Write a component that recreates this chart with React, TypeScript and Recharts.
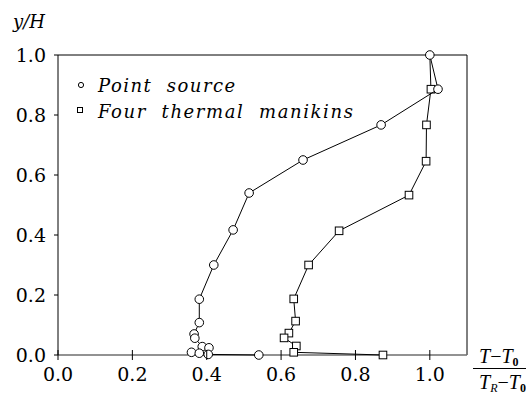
import { ScatterChart, Scatter, XAxis, YAxis, ReferenceLine } from "recharts";

// Point source profile (top to floor)
const pointX = [1.0, 1.022, 0.869, 0.659, 0.514, 0.471, 0.419, 0.38, 0.38, 0.366, 0.368, 0.388, 0.406, 0.359, 0.38, 0.404, 0.54];
const pointY = [1.0, 0.886, 0.767, 0.65, 0.54, 0.417, 0.3, 0.186, 0.108, 0.07, 0.056, 0.028, 0.024, 0.009, 0.006, 0.002, 0.0];

// Four thermal manikins profile (starts at the shared ceiling point)
const manX = [1.0, 1.003, 0.991, 0.99, 0.944, 0.756, 0.674, 0.634, 0.639, 0.621, 0.608, 0.641, 0.634, 0.874];
const manY = [1.0, 0.886, 0.767, 0.646, 0.533, 0.414, 0.3, 0.187, 0.113, 0.073, 0.057, 0.03, 0.009, 0.0];

const xTicks = [0, 0.2, 0.4, 0.6, 0.8, 1.0];
const yTicks = [0, 0.2, 0.4, 0.6, 0.8, 1.0];

const font = "'DejaVu Serif', serif";
const fracFont = "'Liberation Serif', serif";

const pointData = pointX.map((x, i) => ({ x, y: pointY[i] }));
const manData = manX.map((x, i) => ({ x, y: manY[i] }));

function Ring(props: any) {
  const { cx, cy } = props;
  return <circle cx={cx} cy={cy} r={4.3} fill="#fff" stroke="#000" strokeWidth={1} />;
}

function Box(props: any) {
  const { cx, cy, payload } = props;
  // the ceiling point is hidden under the point-source circle in the original
  if (payload && payload.y === 1) return <g />;
  return <rect x={cx - 3.8} y={cy - 3.8} width={7.6} height={7.6} fill="#fff" stroke="#000" strokeWidth={1} />;
}

function XTick({ x, y, payload }: any) {
  return (
    <g>
      <line x1={x} x2={x} y1={y - 17} y2={y - 7} stroke="#000" />
      <text x={x} y={y} dy="0.75em" textAnchor="middle" fontFamily={font} fontSize={19} fill="#000">
        {Number(payload.value).toFixed(1)}
      </text>
    </g>
  );
}

export default function App() {
  return (
    <div style={{ position: "absolute", left: 0, top: 0, width: 526, height: 399, background: "#fff" }}>
      <ScatterChart width={526} height={399} margin={{ top: 55, right: 59, bottom: 0, left: 0 }}>
        <XAxis
          type="number"
          dataKey="x"
          domain={[0, 1.1]}
          ticks={xTicks}
          tick={<XTick />}
          tickLine={false}
          tickSize={0}
          tickMargin={12}
          height={44}
          axisLine={{ stroke: "#6e6e6e", strokeWidth: 1.5 }}
        />
        <YAxis
          type="number"
          dataKey="y"
          domain={[0, 1]}
          ticks={yTicks}
          width={58}
          tickSize={4}
          tickMargin={8}
          tickFormatter={(v) => Number(v).toFixed(1)}
          tick={{ fontFamily: font, fontSize: 19, fill: "#000" }}
          tickLine={{ stroke: "#000" }}
          axisLine={{ stroke: "#000" }}
        />
        <ReferenceLine y={1} stroke="#000" />
        <ReferenceLine x={1.1} stroke="#000" />
        <Scatter data={manData} line={{ stroke: "#000", strokeWidth: 1 }} shape={<Box />} isAnimationActive={false} />
        <Scatter data={pointData} line={{ stroke: "#000", strokeWidth: 1 }} shape={<Ring />} isAnimationActive={false} />
      </ScatterChart>
      <svg width={526} height={399} style={{ position: "absolute", left: 0, top: 0, pointerEvents: "none" }}>
        <text x={13} y={28} fontFamily={font} fontStyle="italic" fontSize={18} fill="#000">y/H</text>
        <circle cx={81} cy={85} r={2.6} fill="#fff" stroke="#000" />
        <text x={98} y={92} fontFamily={font} fontStyle="italic" fontSize={18} letterSpacing={1.5} fill="#000" style={{ whiteSpace: "pre" }}>
          Point  source
        </text>
        <rect x={77.5} y={107.5} width={5} height={5} fill="#fff" stroke="#000" />
        <text x={98} y={118} fontFamily={font} fontStyle="italic" fontSize={18} letterSpacing={1.6} fill="#000" style={{ whiteSpace: "pre" }}>
          Four  thermal  manikins
        </text>
        <text x={479} y={363} fontFamily={fracFont} fontSize={20} fill="#000">
          <tspan fontStyle="italic">T</tspan>
          <tspan>−</tspan>
          <tspan fontStyle="italic">T</tspan>
          <tspan fontSize={12} fontWeight="bold" dy={3}>0</tspan>
        </text>
        <line x1={473} x2={526} y1={368.5} y2={368.5} stroke="#000" />
        <text x={479} y={389} fontFamily={fracFont} fontSize={20} fill="#000">
          <tspan fontStyle="italic">T</tspan>
          <tspan fontStyle="italic" fontSize={12} dy={3}>R</tspan>
          <tspan dy={-3}>−</tspan>
          <tspan fontStyle="italic">T</tspan>
          <tspan fontSize={12} fontWeight="bold" dy={3}>0</tspan>
        </text>
      </svg>
    </div>
  );
}
